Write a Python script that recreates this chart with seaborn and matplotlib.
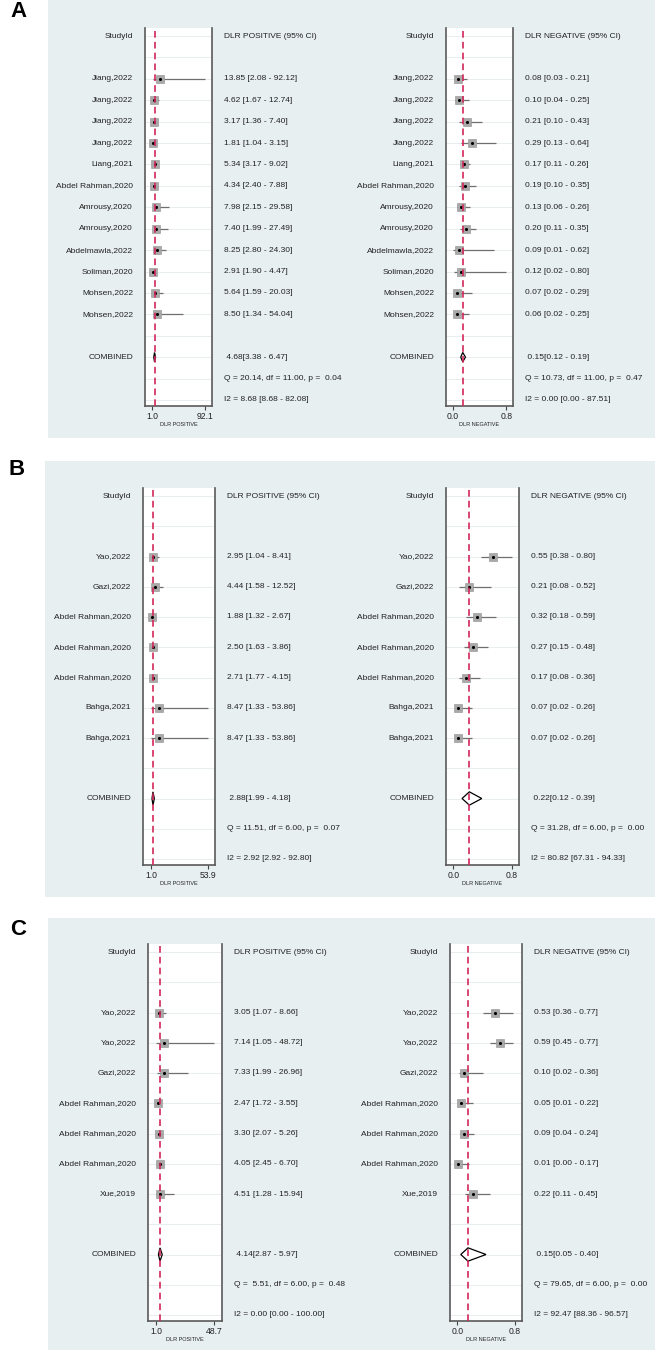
import numpy as np
import pandas as pd
import matplotlib
matplotlib.use('Agg')
import matplotlib.pyplot as plt
from matplotlib import transforms as mtransforms
from matplotlib.patches import Rectangle
import seaborn as sns

# ---- data ----
studies_A = ['Jiang,2022', 'Jiang,2022', 'Jiang,2022', 'Jiang,2022', 'Liang,2021',
             'Abdel Rahman,2020', 'Amrousy,2020', 'Amrousy,2020', 'Abdelmawla,2022',
             'Soliman,2020', 'Mohsen,2022', 'Mohsen,2022']
pos_A_est = [13.85, 4.62, 3.17, 1.81, 5.34, 4.34, 7.98, 7.40, 8.25, 2.91, 5.64, 8.50]
pos_A_lo = [2.08, 1.67, 1.36, 1.04, 3.17, 2.40, 2.15, 1.99, 2.80, 1.90, 1.59, 1.34]
pos_A_hi = [92.12, 12.74, 7.40, 3.15, 9.02, 7.88, 29.58, 27.49, 24.30, 4.47, 20.03, 54.04]
neg_A_est = [0.08, 0.10, 0.21, 0.29, 0.17, 0.19, 0.13, 0.20, 0.09, 0.12, 0.07, 0.06]
neg_A_lo = [0.03, 0.04, 0.10, 0.13, 0.11, 0.10, 0.06, 0.11, 0.01, 0.02, 0.02, 0.02]
neg_A_hi = [0.21, 0.25, 0.43, 0.64, 0.26, 0.35, 0.26, 0.35, 0.62, 0.80, 0.29, 0.25]
pos_A_comb = [4.68, 3.38, 6.47]
neg_A_comb = [0.15, 0.12, 0.19]
pos_A_q = [20.14, 11.00, 0.04]
neg_A_q = [10.73, 11.00, 0.47]
pos_A_i2 = [8.68, 8.68, 82.08]
neg_A_i2 = [0.00, 0.00, 87.51]

studies_B = ['Yao,2022', 'Gazi,2022', 'Abdel Rahman,2020', 'Abdel Rahman,2020',
             'Abdel Rahman,2020', 'Bahga,2021', 'Bahga,2021']
pos_B_est = [2.95, 4.44, 1.88, 2.50, 2.71, 8.47, 8.47]
pos_B_lo = [1.04, 1.58, 1.32, 1.63, 1.77, 1.33, 1.33]
pos_B_hi = [8.41, 12.52, 2.67, 3.86, 4.15, 53.86, 53.86]
neg_B_est = [0.55, 0.21, 0.32, 0.27, 0.17, 0.07, 0.07]
neg_B_lo = [0.38, 0.08, 0.18, 0.15, 0.08, 0.02, 0.02]
neg_B_hi = [0.80, 0.52, 0.59, 0.48, 0.36, 0.26, 0.26]
pos_B_comb = [2.88, 1.99, 4.18]
neg_B_comb = [0.22, 0.12, 0.39]
pos_B_q = [11.51, 6.00, 0.07]
neg_B_q = [31.28, 6.00, 0.00]
pos_B_i2 = [2.92, 2.92, 92.80]
neg_B_i2 = [80.82, 67.31, 94.33]

studies_C = ['Yao,2022', 'Yao,2022', 'Gazi,2022', 'Abdel Rahman,2020',
             'Abdel Rahman,2020', 'Abdel Rahman,2020', 'Xue,2019']
pos_C_est = [3.05, 7.14, 7.33, 2.47, 3.30, 4.05, 4.51]
pos_C_lo = [1.07, 1.05, 1.99, 1.72, 2.07, 2.45, 1.28]
pos_C_hi = [8.66, 48.72, 26.96, 3.55, 5.26, 6.70, 15.94]
neg_C_est = [0.53, 0.59, 0.10, 0.05, 0.09, 0.01, 0.22]
neg_C_lo = [0.36, 0.45, 0.02, 0.01, 0.04, 0.00, 0.11]
neg_C_hi = [0.77, 0.77, 0.36, 0.22, 0.24, 0.17, 0.45]
pos_C_comb = [4.14, 2.87, 5.97]
neg_C_comb = [0.15, 0.05, 0.40]
pos_C_q = [5.51, 6.00, 0.48]
neg_C_q = [79.65, 6.00, 0.00]
pos_C_i2 = [0.00, 0.00, 100.00]
neg_C_i2 = [92.47, 88.36, 96.57]

W, H = 657, 1350
BG = '#e8eff1'
TXT = '#222222'

sns.set_theme(style='white')
plt.rcParams['font.family'] = ['Liberation Sans', 'DejaVu Sans']

fig = plt.figure(figsize=(W / 100, H / 100), dpi=100)


def px_axes(x0, y0, x1, y1):
    return fig.add_axes([x0 / W, 1 - y1 / H, (x1 - x0) / W, (y1 - y0) / H])


def forest(ax, names, est, lo, hi, comb, q, i2, kind, spacing):
    n = len(names)
    rows = list(range(2, 2 + n))
    r_comb, r_q, r_i2 = n + 3, n + 4, n + 5
    pad_t, pad_b = 8 / spacing, 6 / spacing

    for r in range(r_i2 + 1):
        ax.axhline(r, color='#e4eaed', lw=0.6, zorder=0)

    ax.hlines(rows, lo, hi, color='#6f6f6f', lw=0.9, zorder=2)
    df = pd.DataFrame({'est': est, 'row': rows})
    sns.scatterplot(data=df, x='est', y='row', marker='s', s=38, color='#a9a9a9',
                    edgecolor='#909090', linewidth=0.4, ax=ax, zorder=3, legend=False)
    sns.scatterplot(data=df, x='est', y='row', marker='o', s=5, color='black',
                    edgecolor='black', linewidth=0, ax=ax, zorder=4, legend=False)

    e, l, h = comb
    dh = 0.22
    ax.fill([l, e, h, e], [r_comb, r_comb - dh, r_comb, r_comb + dh],
            facecolor='white', edgecolor='black', lw=0.9, zorder=5)
    ax.axvline(e, color='#d2285a', lw=1.2, ls=(0, (4, 2.5)), zorder=6)

    if kind == 'pos':
        top = max(hi)
        ticks = [1.0, top]
        span = top - 1.0
        ax.set_xlim(1.0 - 0.14 * span, top + 0.13 * span)
        label = 'DLR POSITIVE'
    else:
        ticks = [0.0, 0.8]
        ax.set_xlim(-0.1, 0.9)
        label = 'DLR NEGATIVE'
    ax.set_xticks(ticks)
    ax.set_xticklabels([f'{t:.1f}' for t in ticks])
    ax.set_ylim(r_i2 + pad_b, -pad_t)
    ax.set_yticks([])
    ax.set_ylabel('')
    ax.set_xlabel(label, fontsize=4, labelpad=0.5, color=TXT)
    ax.tick_params(axis='x', bottom=True, length=3, width=0.8, pad=1.5,
                   labelsize=6.2, color='#444444', labelcolor=TXT)
    for side in ['left', 'right', 'bottom']:
        ax.spines[side].set_color('#5a5a5a')
        ax.spines[side].set_linewidth(1.2)
    ax.spines['top'].set_visible(False)

    tr = mtransforms.blended_transform_factory(ax.transAxes, ax.transData)
    left_tr = mtransforms.offset_copy(tr, fig=fig, x=-12, y=0, units='dots')
    right_tr = mtransforms.offset_copy(tr, fig=fig, x=12, y=0, units='dots')
    kw = dict(fontsize=6, color=TXT, va='center')

    ax.text(0, 0, 'StudyId', transform=left_tr, ha='right', **kw)
    ax.text(1, 0, f'{label} (95% CI)', transform=right_tr, ha='left', **kw)
    for r, nm, a, b, c in zip(rows, names, est, lo, hi):
        ax.text(0, r, nm, transform=left_tr, ha='right', **kw)
        ax.text(1, r, f'{a:.2f} [{b:.2f} - {c:.2f}]', transform=right_tr, ha='left', **kw)
    ax.text(0, r_comb, 'COMBINED', transform=left_tr, ha='right', **kw)
    ax.text(1, r_comb, f' {e:.2f}[{l:.2f} - {h:.2f}]', transform=right_tr, ha='left', **kw)
    ax.text(1, r_q, f'Q = {q[0]:5.2f}, df = {q[1]:.2f}, p = {q[2]:5.2f}',
            transform=right_tr, ha='left', **kw)
    ax.text(1, r_i2, f'I2 = {i2[0]:.2f} [{i2[1]:.2f} - {i2[2]:.2f}]',
            transform=right_tr, ha='left', **kw)


# panel layout in pixels: background, letter, first row y, row spacing, box x-ranges
panels = [
    dict(letter='A', bg=(48, 0, 655, 438), lxy=(10, 1), y0=36, sp=21.41,
         lbox=(145, 212), rbox=(446, 513), names=studies_A,
         pos=(pos_A_est, pos_A_lo, pos_A_hi, pos_A_comb, pos_A_q, pos_A_i2),
         neg=(neg_A_est, neg_A_lo, neg_A_hi, neg_A_comb, neg_A_q, neg_A_i2)),
    dict(letter='B', bg=(45, 461, 655, 897), lxy=(8, 459), y0=496, sp=30.25,
         lbox=(143, 215), rbox=(446, 519), names=studies_B,
         pos=(pos_B_est, pos_B_lo, pos_B_hi, pos_B_comb, pos_B_q, pos_B_i2),
         neg=(neg_B_est, neg_B_lo, neg_B_hi, neg_B_comb, neg_B_q, neg_B_i2)),
    dict(letter='C', bg=(48, 918, 655, 1350), lxy=(10, 919), y0=952, sp=30.25,
         lbox=(148, 222), rbox=(450, 522), names=studies_C,
         pos=(pos_C_est, pos_C_lo, pos_C_hi, pos_C_comb, pos_C_q, pos_C_i2),
         neg=(neg_C_est, neg_C_lo, neg_C_hi, neg_C_comb, neg_C_q, neg_C_i2)),
]

for p in panels:
    x0, y0, x1, y1 = p['bg']
    fig.add_artist(Rectangle((x0 / W, 1 - y1 / H), (x1 - x0) / W, (y1 - y0) / H,
                             transform=fig.transFigure, facecolor=BG,
                             edgecolor='none', zorder=-5))
    fig.text(p['lxy'][0] / W, 1 - p['lxy'][1] / H, p['letter'], fontsize=16,
             fontweight='bold', color='black', va='top', ha='left')
    last = len(p['names']) + 5
    top_px = p['y0'] - 8
    bot_px = p['y0'] + last * p['sp'] + 6
    for key, box in (('pos', p['lbox']), ('neg', p['rbox'])):
        ax = px_axes(box[0], top_px, box[1], bot_px)
        forest(ax, p['names'], *p[key], kind=key, spacing=p['sp'])

fig.savefig('out.png', dpi=100, facecolor='white')
